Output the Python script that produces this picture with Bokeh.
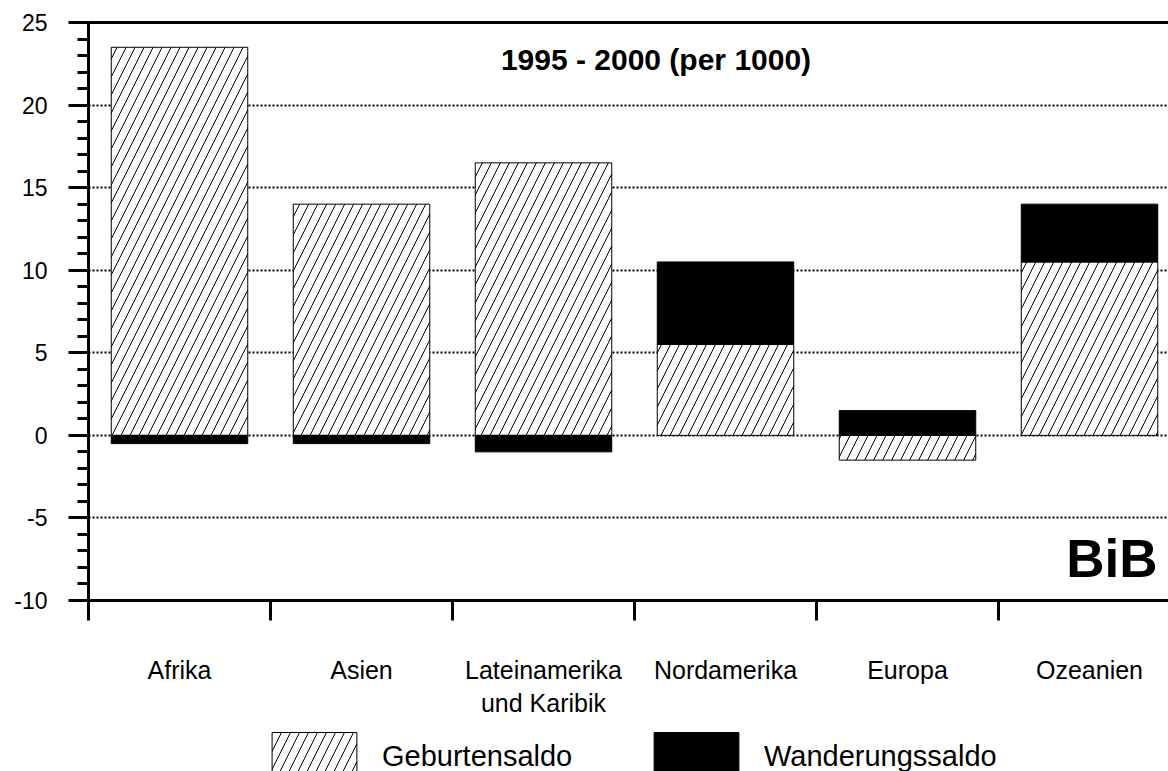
from bokeh.plotting import figure
from bokeh.layouts import column
from bokeh.models import (Range1d, LinearAxis, FixedTicker, SingleIntervalTicker,
                          Label, Legend, LegendItem, ColumnDataSource, Grid)
from bokeh.embed import file_html
from bokeh.resources import INLINE

# ---- data ----
regions = ["Afrika", "Asien", "Lateinamerika\nund Karibik", "Nordamerika", "Europa", "Ozeanien"]
geburtensaldo = [23.5, 14.0, 16.5, 5.5, -1.5, 10.5]
wanderungssaldo = [-0.5, -0.5, -1.0, 5.0, 1.5, 3.5]
y_tick_values = [-10, -5, 0, 5, 10, 15, 20, 25]
title_text = "1995 - 2000 (per 1000)"
series_names = ["Geburtensaldo", "Wanderungssaldo"]
logo_text = "BiB"

FONT = "Liberation Sans"
MAIN_H = 722
LEG_H = 771 - MAIN_H

# positions (category i occupies [i, i+1])
xc = [i + 0.5 for i in range(len(regions))]
g_bottom = [0.0] * len(regions)
g_top = list(geburtensaldo)
w_bottom = []
w_top = []
for g, w in zip(geburtensaldo, wanderungssaldo):
    b = g if (g >= 0) == (w >= 0) else 0.0
    w_bottom.append(b)
    w_top.append(b + w)

src_g = ColumnDataSource(dict(x=xc, bottom=g_bottom, top=g_top))
src_w = ColumnDataSource(dict(x=xc, bottom=w_bottom, top=w_top))

p = figure(width=1168, height=MAIN_H, output_backend="svg", toolbar_location=None,
           x_range=Range1d(0, 1080 / 182), y_range=Range1d(-10, 25),
           x_axis_type=None, y_axis_type=None,
           min_border_left=88, min_border_right=0, min_border_top=22,
           min_border_bottom=MAIN_H - 600)
p.outline_line_color = None
p.background_fill_color = "white"
p.border_fill_color = "white"

# y axis
yax = LinearAxis(ticker=SingleIntervalTicker(interval=5, num_minor_ticks=5))
yax.major_label_overrides = {v: str(v) for v in y_tick_values}
yax.axis_line_width = 3
yax.major_tick_line_width = 3
yax.minor_tick_line_width = 3
yax.major_tick_out = 20
yax.major_tick_in = 0
yax.minor_tick_out = 11
yax.minor_tick_in = 0
yax.major_label_standoff = 21
yax.major_label_text_font = FONT
yax.major_label_text_font_size = "23px"
yax.major_label_text_color = "black"
p.add_layout(yax, "left")

# x axis: labels at category centres, ticks at category boundaries
xax = LinearAxis(ticker=FixedTicker(ticks=xc, minor_ticks=list(range(len(regions) + 1))))
xax.major_label_overrides = {x: r for x, r in zip(xc, regions)}
xax.axis_line_width = 3
xax.major_tick_line_color = None
xax.major_tick_out = 0
xax.major_tick_in = 0
xax.minor_tick_line_width = 3
xax.minor_tick_out = 20
xax.minor_tick_in = 0
xax.major_label_standoff = 35
xax.major_label_text_font = FONT
xax.major_label_text_font_size = "25px"
xax.major_label_text_color = "black"
p.add_layout(xax, "below")

# top frame line
tax = LinearAxis(ticker=FixedTicker(ticks=[]))
tax.axis_line_width = 3
tax.major_tick_line_color = None
tax.minor_tick_line_color = None
tax.major_tick_out = 0
tax.major_label_text_font_size = "0px"
p.add_layout(tax, "above")

# grid
grid = Grid(dimension=1, ticker=SingleIntervalTicker(interval=5),
            grid_line_color="black", grid_line_width=2, grid_line_dash="2 2")
p.add_layout(grid)

bar_g_style = dict(fill_color="white", line_color="black", line_width=1,
                   hatch_pattern="/", hatch_color="black", hatch_weight=1, hatch_scale=18)
bar_w_style = dict(fill_color="black", line_color="black", line_width=1)

p.vbar(x="x", width=0.75, bottom="bottom", top="top", source=src_g, **bar_g_style)
p.vbar(x="x", width=0.75, bottom="bottom", top="top", source=src_w, **bar_w_style)

title = Label(x=(655.5 - 88) / 182, y=(435 - 59) / 16.514, text=title_text,
              text_font=FONT, text_font_size="30px", text_font_style="bold",
              text_align="center", text_baseline="alphabetic", text_color="black")
p.add_layout(title)

logo = Label(x=(1157 - 88) / 182, y=(435 - 558) / 16.514, text=logo_text,
             text_font=FONT, text_font_size="53px", text_font_style="bold",
             text_align="right", text_baseline="alphabetic", text_color="black")
p.add_layout(logo)

# ---- legend strip below the chart (its frame is aligned with the chart frame) ----
lf = figure(width=1168, height=LEG_H, output_backend="svg", toolbar_location=None,
            x_range=Range1d(100, 101), y_range=Range1d(100, 101),
            x_axis_type=None, y_axis_type=None,
            min_border_left=88, min_border_right=0, min_border_top=0, min_border_bottom=0)
lf.outline_line_color = None
lf.background_fill_color = "white"
lf.border_fill_color = "white"
lr_g = lf.vbar(x="x", width=0.75, bottom="bottom", top="top", source=src_g, **bar_g_style)
lr_w = lf.vbar(x="x", width=0.75, bottom="bottom", top="top", source=src_w, **bar_w_style)

legend = Legend(items=[LegendItem(label=series_names[0], renderers=[lr_g], index=0),
                       LegendItem(label=series_names[1], renderers=[lr_w], index=0)],
                orientation="horizontal", location=(173, -15),
                glyph_width=106, glyph_height=60, label_standoff=15,
                label_width=261, spacing=0, padding=0, margin=0,
                border_line_color=None, background_fill_alpha=0,
                label_text_font=FONT, label_text_font_size="29px",
                label_text_color="black")
lf.add_layout(legend, "center")

layout = column(p, lf, spacing=0)
open("out.html", "w").write(file_html(layout, INLINE))
